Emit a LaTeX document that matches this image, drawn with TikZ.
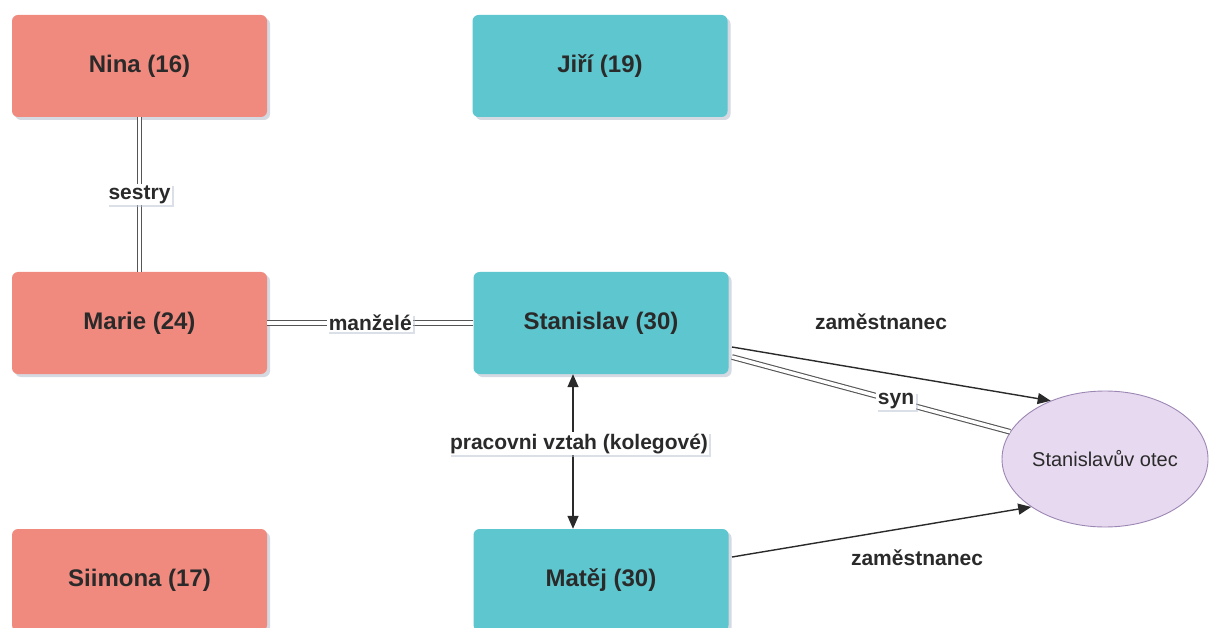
\documentclass[tikz,border=0pt]{standalone}
\usepackage{fontspec}
\setmainfont{Liberation Sans}
\usetikzlibrary{shadows,arrows.meta,shapes.geometric}
\definecolor{salmon}{HTML}{F08A7E}
\definecolor{teal}{HTML}{5EC6CE}
\definecolor{lav}{HTML}{E7DAF0}
\definecolor{lavb}{HTML}{9C86B4}
\definecolor{ink}{HTML}{2A2A2A}
\definecolor{shad}{HTML}{B8C0D0}
\tikzset{
  person/.style={rounded corners=6pt, minimum width=255pt, minimum height=102pt,
    text=ink, font=\fontsize{24}{28}\selectfont\bfseries,
    drop shadow={shadow xshift=3pt, shadow yshift=-3pt, fill=shad, opacity=0.6}},
  woman/.style={person, fill=salmon},
  man/.style={person, fill=teal},
  lbl/.style={fill=white, inner sep=1.5pt, text=ink, font=\fontsize{21}{24}\selectfont\bfseries,
    drop shadow={shadow xshift=2pt, shadow yshift=-2pt, fill=shad, opacity=0.5}},
  freelbl/.style={text=ink, font=\fontsize{21}{24}\selectfont\bfseries},
  dbl/.style={draw=ink!80, double=white, double distance=3.5pt, line width=1.1pt},
  tip/.tip={Triangle[length=13pt,width=11pt]},
  arr/.style={draw=ink, line width=1.4pt, -tip}
}
\begin{document}
\begin{tikzpicture}[x=1pt,y=-1pt]
\useasboundingbox[fill=white] (0,0) rectangle (1212,628);
\node[woman] (nina) at (139.5,66) {Nina (16)};
\node[man] (jiri) at (600,66) {Jiří (19)};
\node[woman] (marie) at (139.5,323) {Marie (24)};
\node[man] (stan) at (601,323) {Stanislav (30)};
\node[woman] (siim) at (139.5,580) {Siimona (17)};
\node[man] (matej) at (601,580) {Matěj (30)};
\node[ellipse, draw=lavb, fill=lav, line width=0.9pt, minimum width=206pt, minimum height=136pt,
  inner sep=0pt, text=ink, font=\fontsize{20}{24}\selectfont] (otec) at (1105,459)
  {\makebox[0pt]{Stanislavův otec}};

\draw[dbl] (nina) -- node[lbl] {sestry} (marie);
\draw[dbl] (marie) -- node[lbl, pos=0.5] {manželé} (stan);
\draw[draw=ink, line width=1.4pt, tip-tip]
  ([xshift=-28pt]stan.south) -- node[lbl, pos=0.45, xshift=6pt] {pracovni vztah (kolegové)} ([xshift=-28pt]matej.north);
\coordinate (s1) at (732,347);
\coordinate (s2) at (732,357);
\coordinate (m1) at (732,557);
\draw[arr] (s1) -- (otec.133);
\node[freelbl] (z1) at (881,322) {zaměstnanec};
\draw[dbl] (s2) -- node[lbl, pos=0.59] {syn} (otec.164);
\draw[arr] (m1) -- (otec.213);
\node[freelbl] (z2) at (917,558) {zaměstnanec};
\end{tikzpicture}
\end{document}
